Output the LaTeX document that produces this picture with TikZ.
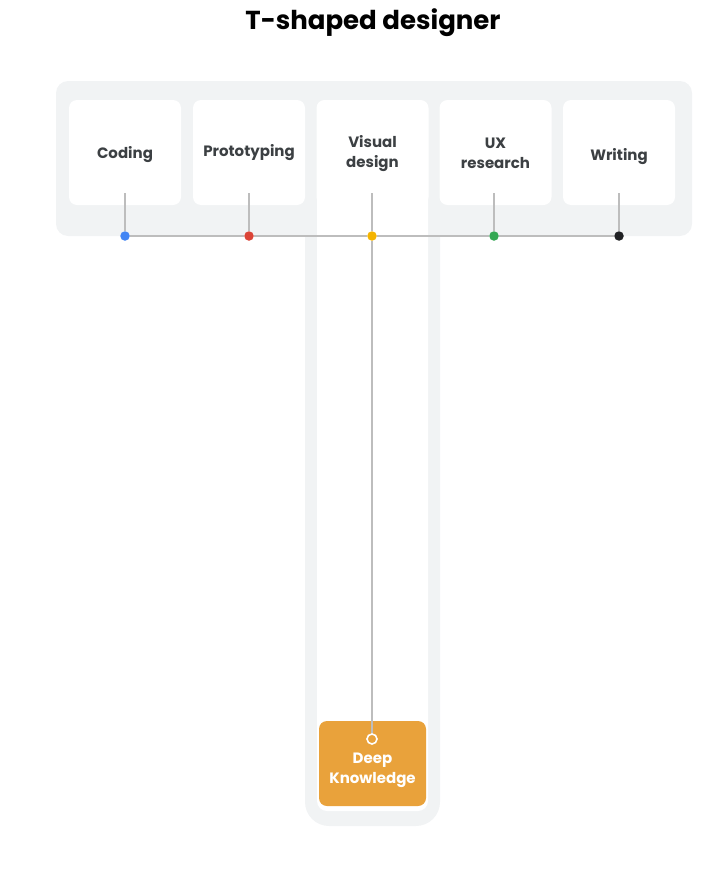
\documentclass[tikz,border=0pt]{standalone}
\usepackage{fontspec}
\setmainfont{Poppins}
\usetikzlibrary{positioning}

\definecolor{bandgrey}{HTML}{F1F3F4}
\definecolor{linegrey}{HTML}{BDBDBD}
\definecolor{textgrey}{HTML}{3C4043}
\definecolor{gblue}{HTML}{4285F4}
\definecolor{gred}{HTML}{DB4437}
\definecolor{gyellow}{HTML}{F4B400}
\definecolor{ggreen}{HTML}{34A853}
\definecolor{gblack}{HTML}{202124}
\definecolor{deeporange}{HTML}{E9A23B}

\begin{document}
\begin{tikzpicture}[x=1pt, y=1pt,
skillbox/.style={rectangle, rounded corners=8pt, fill=white, minimum width=112pt, minimum height=105pt, inner sep=0pt},
skilltext/.style={text=textgrey, align=center, inner sep=0pt, font=\fontsize{15}{20}\selectfont\bfseries},
dot/.style={circle, inner sep=0pt, minimum size=9.5pt},
link/.style={draw=linegrey, line width=1.6pt},
deepbox/.style={rectangle, rounded corners=8pt, fill=deeporange, minimum width=107pt, minimum height=85pt, inner sep=0pt}]
\tikzstyle{deeptext}=[text=white, align=center, inner sep=0pt, font=\fontsize{15}{20}\selectfont\bfseries]
\def\ly{-236}
\useasboundingbox (0,0) rectangle (712,-870);

\node[font=\fontsize{26}{30}\selectfont\bfseries] (title) at (373,-23) {T-shaped designer};

% grey T
\fill[bandgrey, rounded corners=12pt] (56,-81) rectangle (692,-236);
\fill[bandgrey, rounded corners=24pt] (305,-81) rectangle (440,-826);
\fill[white, rounded corners=10pt] (317,-100) rectangle (428,-811);

% skills
\node[skillbox] (coding) at (125,-152.5) {};
\node[skillbox] (proto) at (249,-152.5) {};
\node[skillbox] (visual) at (372.5,-152.5) {};
\node[skillbox] (ux) at (495.5,-152.5) {};
\node[skillbox] (writing) at (619,-152.5) {};
\node[skilltext] (tcoding) at ([yshift=-2pt]coding.center) {Coding};
\node[skilltext] (tproto) at ([yshift=0pt]proto.center) {Prototyping};
\node[skilltext] (tvisual) at ([yshift=-1pt]visual.center) {Visual\\design};
\node[skilltext] (tux) at ([yshift=-1pt]ux.center) {UX\\research};
\node[skilltext] (twriting) at ([yshift=-4.5pt]writing.center) {Writing};

% dots
\node[dot, fill=gblue] (dcoding) at (125,\ly) {};
\node[dot, fill=gred] (dproto) at (249,\ly) {};
\node[dot, fill=gyellow] (dvisual) at (372,\ly) {};
\node[dot, fill=ggreen] (dux) at (494,\ly) {};
\node[dot, fill=gblack] (dwriting) at (619,\ly) {};

\draw[link] ([yshift=12pt]coding.south) -- (dcoding);
\draw[link] ([yshift=12pt]proto.south) -- (dproto);
\draw[link] ([xshift=-0.5pt, yshift=12pt]visual.south) -- (dvisual);
\draw[link] ([xshift=-1.5pt, yshift=12pt]ux.south) -- (dux);
\draw[link] ([yshift=12pt]writing.south) -- (dwriting);
\draw[link] (dcoding) -- (dproto);
\draw[link] (dproto) -- (dvisual);
\draw[link] (dvisual) -- (dux);
\draw[link] (dux) -- (dwriting);

% deep knowledge
\node[deepbox] (deep) at (372.5,-763.5) {};
\node[circle, draw=white, line width=1.6pt, inner sep=0pt, minimum size=10pt] (ring) at (372,-739) {};
\draw[link] (dvisual) -- (ring);
\node[deeptext] (deeplabel) at (372.5,-770) {Deep\\Knowledge};
\end{tikzpicture}
\end{document}
